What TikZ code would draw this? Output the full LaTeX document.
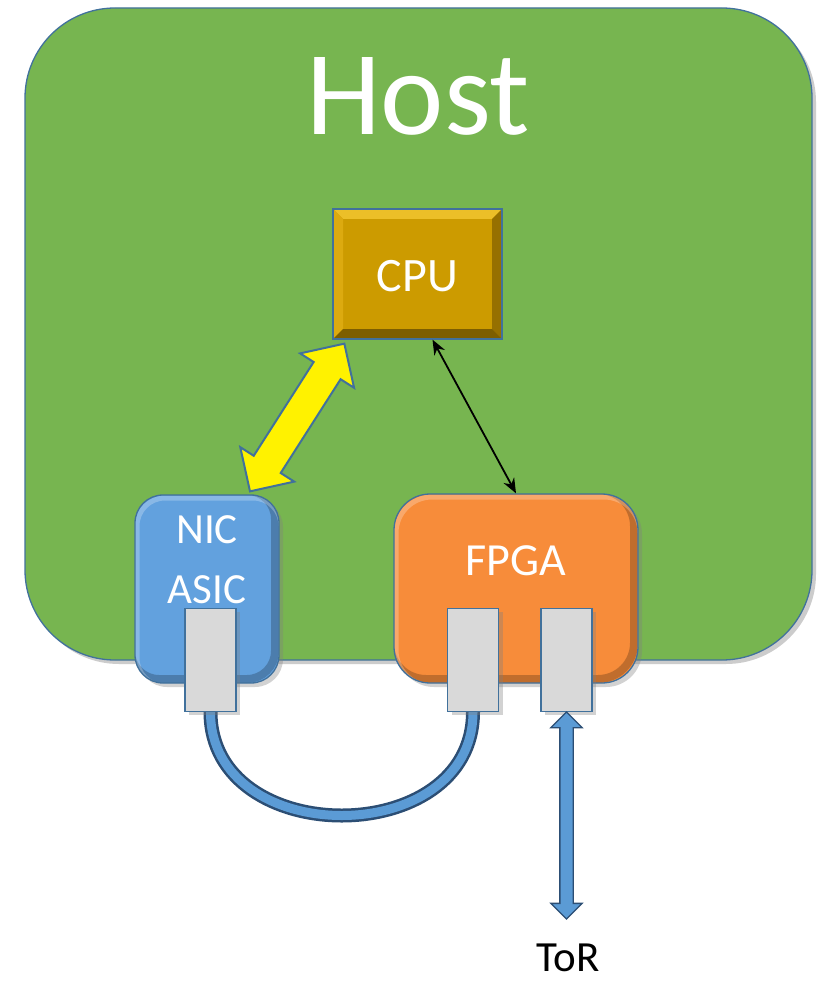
\documentclass[tikz,border=0pt]{standalone}
\usepackage{fontspec}
\setmainfont{Carlito}
\usetikzlibrary{shapes.arrows,shadows,calc,arrows.meta}

\definecolor{hostgreen}{RGB}{119,181,80}
\definecolor{edgeblue}{RGB}{65,113,156}
\definecolor{cpugold}{RGB}{204,155,0}
\definecolor{cputop}{RGB}{236,191,40}
\definecolor{cpuleft}{RGB}{220,170,16}
\definecolor{cpuright}{RGB}{150,112,0}
\definecolor{cpubottom}{RGB}{125,94,0}
\definecolor{nicblue}{RGB}{98,161,222}
\definecolor{fpgaorange}{RGB}{247,140,58}
\definecolor{portgray}{RGB}{217,217,217}
\definecolor{cableblue}{RGB}{91,155,213}
\definecolor{cabledark}{RGB}{44,78,116}

\begin{document}
\begin{tikzpicture}[x=1pt,y=-1pt,
  box/.style={draw=edgeblue, line width=1.3pt, inner sep=0pt},
  softshadow/.style={drop shadow={shadow xshift=4pt, shadow yshift=-4pt, opacity=.35}},
  glossy/.style={path picture={
    \draw[black, opacity=.22, line width=8pt, rounded corners=#1]
      ([shift={(-4pt,4pt)}]path picture bounding box.south west) rectangle
      ([shift={(-4pt,4pt)}]path picture bounding box.north east);
    \draw[white, opacity=.25, line width=5pt, rounded corners=#1]
      ([shift={(2pt,-3pt)}]path picture bounding box.south west) rectangle
      ([shift={(2pt,-3pt)}]path picture bounding box.north east);
  }},
  bevel/.style={path picture={
    \fill[cputop] (path picture bounding box.north west) -- (path picture bounding box.north east)
      -- ([shift={(-10pt,-10pt)}]path picture bounding box.north east)
      -- ([shift={(10pt,-10pt)}]path picture bounding box.north west) -- cycle;
    \fill[cpuleft] (path picture bounding box.north west) -- (path picture bounding box.south west)
      -- ([shift={(10pt,10pt)}]path picture bounding box.south west)
      -- ([shift={(10pt,-10pt)}]path picture bounding box.north west) -- cycle;
    \fill[cpuright] (path picture bounding box.north east) -- (path picture bounding box.south east)
      -- ([shift={(-10pt,10pt)}]path picture bounding box.south east)
      -- ([shift={(-10pt,-10pt)}]path picture bounding box.north east) -- cycle;
    \fill[cpubottom] (path picture bounding box.south west) -- (path picture bounding box.south east)
      -- ([shift={(-10pt,10pt)}]path picture bounding box.south east)
      -- ([shift={(10pt,10pt)}]path picture bounding box.south west) -- cycle;
  }},
  port/.style={draw=edgeblue, line width=1.3pt, fill=portgray, inner sep=0pt,
    minimum width=51pt, minimum height=103pt, softshadow, anchor=south},
  whitetext/.style={text=white, inner sep=0pt, anchor=base},
  dblarrow/.style={double arrow, inner sep=0pt, double arrow tip angle=90},
]
\useasboundingbox (0,0) rectangle (826,984);
\fill[white] (0,0) rectangle (826,984);

% host board
\node[box, fill=hostgreen, rounded corners=90pt, minimum width=787pt, minimum height=652pt,
  drop shadow={shadow xshift=4pt, shadow yshift=-4pt, opacity=.4}] (host) at (418.5,334) {};
\node[whitetext, font=\fontsize{120}{120}\selectfont] (hostlabel) at (418,135) {Host};

% processor
\node[box, fill=cpugold, bevel, minimum width=169pt, minimum height=130pt] (cpu) at (417.5,274) {};
\node[whitetext, font=\fontsize{48}{48}\selectfont] (cpulabel) at (417.5,291) {CPU};

% NIC and FPGA cards
\node[box, fill=nicblue, rounded corners=28pt, glossy=28pt, softshadow,
  minimum width=144pt, minimum height=188pt] (nic) at (207,589) {};
\node[box, fill=fpgaorange, rounded corners=36pt, glossy=36pt, softshadow,
  minimum width=244pt, minimum height=189pt] (fpga) at (516,588.5) {};

\node[whitetext, font=\fontsize{43}{43}\selectfont] (niclabel) at (207,543) {NIC};
\node[whitetext, font=\fontsize{43}{43}\selectfont] (asiclabel) at (207,603) {ASIC};
\node[whitetext, font=\fontsize{46}{46}\selectfont] (fpgalabel) at (516,575) {FPGA};

% black link CPU <-> FPGA
\draw[line width=1.8pt, {Stealth[length=15pt,width=12pt]}-{Stealth[length=15pt,width=12pt]}]
  ([xshift=15pt]cpu.south) -- (fpga.north);

% yellow wide link CPU <-> NIC
\coordinate (ya) at ([shift={(43pt,3pt)}]nic.north);
\coordinate (yb) at ([shift={(12pt,-4pt)}]cpu.south west);
\path let \p1=(ya), \p2=(yb), \n1={atan2(\y2-\y1,\x2-\x1)}, \n2={veclen(\x2-\x1,\y2-\y1)} in
  node[dblarrow, fill=yellow, draw=edgeblue, line width=2pt, inner ysep=15pt,
    double arrow head extend=16pt, minimum height=\n2, rotate=\n1] (yarrow) at ($(ya)!.5!(yb)$) {};

% port sockets (bottom edges)
\coordinate (npbot) at (210.5,712);
\coordinate (fp1bot) at (473,712);
\coordinate (fp2bot) at (566.5,712);

% loop-back cable between NIC port and FPGA port
\draw[cabledark, line width=14pt] (npbot) .. controls +(0,138) and +(0,138) .. (fp1bot);
\draw[cableblue, line width=9pt] (npbot) .. controls +(0,138) and +(0,138) .. (fp1bot);

% ports
\node[port] (np) at (npbot) {};
\node[port] (fp1) at (fp1bot) {};
\node[port] (fp2) at (fp2bot) {};

% uplink to the ToR switch
\coordinate (torend) at (566.5,919);
\path let \p1=(fp2.south), \p2=(torend), \n1={atan2(\y2-\y1,\x2-\x1)}, \n2={veclen(\x2-\x1,\y2-\y1)} in
  node[dblarrow, fill=cableblue, draw=cabledark, line width=1.3pt, inner ysep=6pt,
    double arrow head extend=9pt, minimum height=\n2, rotate=\n1] (torarrow) at ($(fp2.south)!.5!(torend)$) {};
\node[inner sep=0pt, anchor=base, font=\fontsize{43}{43}\selectfont] (torlabel) at (568,971) {ToR};
\end{tikzpicture}
\end{document}
